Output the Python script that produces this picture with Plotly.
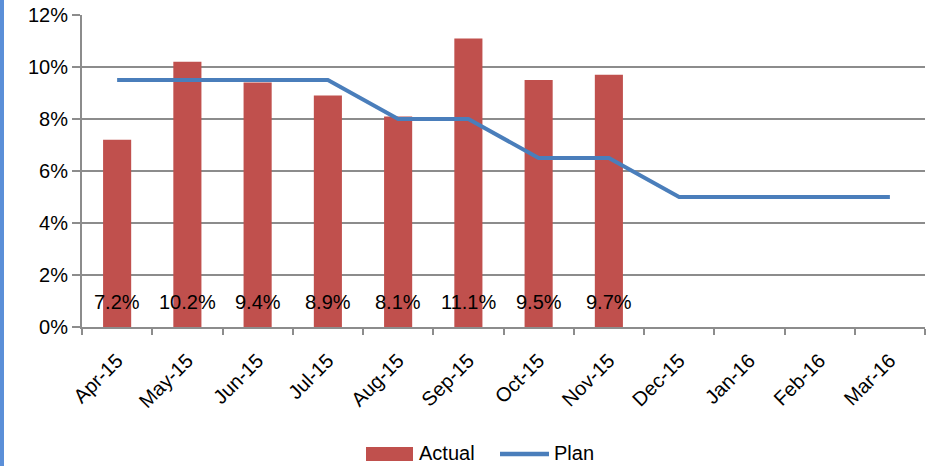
import plotly.graph_objects as go

months = ["Apr-15", "May-15", "Jun-15", "Jul-15", "Aug-15", "Sep-15",
          "Oct-15", "Nov-15", "Dec-15", "Jan-16", "Feb-16", "Mar-16"]
actual = [7.2, 10.2, 9.4, 8.9, 8.1, 11.1, 9.5, 9.7]
plan = [9.5, 9.5, 9.5, 9.5, 8.0, 8.0, 6.5, 6.5, 5.0, 5.0, 5.0, 5.0]
y_ticks = [0, 2, 4, 6, 8, 10, 12]

BAR = "#c0504d"
LINE = "#4a7ebb"
GRID = "#8c8c8c"
FONT = "Liberation Sans"
FS = 20

W, H = 929, 466
L, R, T, B = 82, 4, 15, 139
pw, ph = W - L - R, H - T - B


def px(x):
    return (x - L) / pw


def py(y):
    return (H - B - y) / ph


fig = go.Figure()
fig.add_trace(go.Bar(x=months[:len(actual)], y=actual, name="Actual",
                     marker=dict(color=BAR, line=dict(width=0)), width=0.4))
fig.add_trace(go.Scatter(x=months, y=plan, name="Plan", mode="lines",
                         line=dict(color=LINE, width=4)))

annotations = []
for m, v in zip(months, actual):
    annotations.append(dict(x=m, y=0, xref="x", yref="y", text=f"{v:.1f}%",
                            showarrow=False, yanchor="middle", yshift=25,
                            font=dict(family=FONT, size=FS, color="#000")))

# legend drawn by hand
shapes = [
    dict(type="rect", xref="paper", yref="paper", x0=px(0), x1=px(4),
         y0=py(H), y1=py(0), fillcolor="#5b8fd8", line=dict(width=0), layer="above"),
    dict(type="rect", xref="paper", yref="paper", x0=px(366), x1=px(413),
         y0=py(461), y1=py(447), fillcolor=BAR, line=dict(width=0)),
    dict(type="line", xref="paper", yref="paper", x0=px(500), x1=px(549),
         y0=py(454), y1=py(454), line=dict(color=LINE, width=4.5)),
]
annotations += [
    dict(x=px(417), y=py(453), xref="paper", yref="paper", text="Actual",
         showarrow=False, xanchor="left", yanchor="middle",
         font=dict(family=FONT, size=FS, color="#000")),
    dict(x=px(552), y=py(453), xref="paper", yref="paper", text="Plan",
         showarrow=False, xanchor="left", yanchor="middle",
         font=dict(family=FONT, size=FS, color="#000")),
]

fig.update_layout(
    width=W, height=H, margin=dict(l=L, r=R, t=T, b=B),
    paper_bgcolor="white", plot_bgcolor="white", showlegend=False,
    bargap=0.6, shapes=shapes, annotations=annotations,
    font=dict(family=FONT, size=FS, color="#000"),
)
fig.update_xaxes(type="category", tickangle=-45, showgrid=False,
                 showline=True, linecolor=GRID, linewidth=2,
                 ticks="outside", ticklen=6, tickcolor=GRID, tickwidth=2,
                 tickson="boundaries", range=[-0.5, 11.5],
                 ticklabelstandoff=12,
                 tickfont=dict(family=FONT, size=FS))
fig.update_yaxes(range=[0, 12], tickvals=y_ticks,
                 ticktext=[f"{v}%" for v in y_ticks],
                 showgrid=True, gridcolor=GRID, gridwidth=2,
                 showline=True, linecolor=GRID, linewidth=2,
                 ticks="outside", ticklen=8, tickcolor=GRID, tickwidth=2,
                 zeroline=False, tickfont=dict(family=FONT, size=FS))

fig.write_html("out.html")
